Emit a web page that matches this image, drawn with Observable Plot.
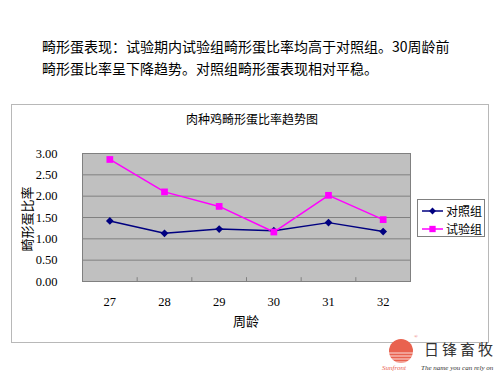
<!DOCTYPE html>
<html><head><meta charset="utf-8">
<script src="https://cdn.jsdelivr.net/npm/d3@7"></script>
<script src="https://cdn.jsdelivr.net/npm/@observablehq/plot@0.6"></script>
<style>body{margin:0;background:#fff}#c{width:500px;height:375px}</style>
</head><body><div id="c"></div>
<script>
const weeks = [27, 28, 29, 30, 31, 32];
const control = [1.42, 1.13, 1.23, 1.19, 1.38, 1.17];
const trial = [2.86, 2.10, 1.76, 1.16, 2.02, 1.45];
const yTicks = [0, 0.5, 1, 1.5, 2, 2.5, 3];
const seriesNames = ["对照组", "试验组"];
const seriesColors = ["#000080", "#ff00ff"];
const chartTitle = "肉种鸡畸形蛋比率趋势图";
const xTitle = "周龄";
const yTitle = "畸形蛋比率";
const headLines = ["畸形蛋表现：试验期内试验组畸形蛋比率均高于对照组。30周龄前", "畸形蛋比率呈下降趋势。对照组畸形蛋表现相对平稳。"];

const data = weeks.flatMap((w, i) => [
  {week: w, value: control[i], group: seriesNames[0]},
  {week: w, value: trial[i], group: seriesNames[1]}
]);
const boundaries = weeks.slice(0, -1).map(w => w + 0.5);
const cjk = "'Noto Sans CJK SC', sans-serif";

const chart = Plot.plot({
  width: 500, height: 375,
  marginLeft: 82, marginRight: 90, marginTop: 153, marginBottom: 94,
  style: {fontFamily: "'Liberation Serif', serif", fontSize: "12.5px", color: "#000", background: "transparent"},
  x: {domain: [26.5, 32.5], ticks: weeks, tickFormat: d => String(d), tickSize: 0, tickPadding: 16, label: null},
  y: {domain: [0, 3], ticks: yTicks, tickFormat: d => d.toFixed(2), tickSize: 0, tickPadding: 25, label: null},
  color: {domain: seriesNames, range: seriesColors},
  marks: [
    Plot.frame({fill: "#c0c0c0"}),
    Plot.gridY(yTicks, {stroke: "#808080", strokeOpacity: 1, strokeWidth: 1}),
    Plot.frame({stroke: "#808080"}),
    Plot.ruleX(boundaries, {y1: 0, y2: 0.09, stroke: "#808080"}),
    Plot.line(data, {x: "week", y: "value", stroke: "group", strokeWidth: 1.5}),
    Plot.dot(data.filter(d => d.group === seriesNames[0]), {x: "week", y: "value", symbol: "diamond2", fill: seriesColors[0], r: 3.5}),
    Plot.dot(data.filter(d => d.group === seriesNames[1]), {x: "week", y: "value", symbol: "square", fill: seriesColors[1], r: 3.8})
  ]
});
document.getElementById("c").appendChild(chart);

const svg = d3.select(chart);
// outer chart border
svg.insert("rect", ":first-child").attr("x", 11.5).attr("y", 104.5).attr("width", 477).attr("height", 238)
  .attr("fill", "#fff").attr("stroke", "#b8b8b8");
// heading text
headLines.forEach((t, i) => {
  svg.append("text").attr("x", 42).attr("y", 52 + i * 22).attr("text-anchor", "start").attr("font-family", cjk)
    .attr("font-size", 14).attr("fill", "#000").text(t);
});
// chart title
svg.append("text").attr("x", 252).attr("y", 124).attr("text-anchor", "middle").attr("font-family", cjk)
  .attr("font-size", 12).attr("fill", "#000").text(chartTitle);
// axis titles
svg.append("text").attr("x", 246).attr("y", 326).attr("text-anchor", "middle").attr("font-family", cjk)
  .attr("font-size", 13).attr("fill", "#000").text(xTitle);
svg.append("text").attr("transform", "translate(32,219) rotate(-90)").attr("text-anchor", "middle")
  .attr("font-family", cjk).attr("font-size", 13).attr("fill", "#000").text(yTitle);
// legend
svg.append("rect").attr("x", 417.5).attr("y", 199.5).attr("width", 67).attr("height", 37)
  .attr("fill", "#fff").attr("stroke", "#808080");
seriesNames.forEach((n, i) => {
  const y = 211 + i * 18;
  svg.append("line").attr("x1", 422).attr("x2", 443).attr("y1", y).attr("y2", y)
    .attr("stroke", seriesColors[i]).attr("stroke-width", 1.5);
  svg.append("path").attr("transform", `translate(432.5,${y})`)
    .attr("d", d3.symbol(i === 0 ? d3.symbolDiamond2 : d3.symbolSquare, i === 0 ? 30 : 40)())
    .attr("fill", seriesColors[i]);
  svg.append("text").attr("x", 446).attr("y", y + 4.5).attr("text-anchor", "start").attr("font-family", cjk)
    .attr("font-size", 12).attr("fill", "#000").text(n);
});
// logo
const lg = svg.append("g").attr("text-anchor", "start");
lg.append("circle").attr("cx", 401).attr("cy", 351).attr("r", 12).attr("fill", "#e9624f");
[353, 356, 359, 362].forEach(y => lg.append("line").attr("x1", 388).attr("x2", 414).attr("y1", y).attr("y2", y)
  .attr("stroke", "#fff").attr("stroke-width", 0.8));
lg.append("text").attr("x", 414).attr("y", 338).attr("font-size", 5).attr("fill", "#e9624f").text("®");
lg.append("text").attr("x", 424).attr("y", 355).attr("font-family", cjk).attr("font-size", 15)
  .attr("letter-spacing", 3).attr("fill", "#333").text("日锋畜牧");
lg.append("text").attr("x", 382).attr("y", 370).attr("font-family", "'Liberation Serif', serif").attr("font-style", "italic")
  .attr("font-size", 7).attr("fill", "#e9624f").text("Sunfront");
lg.append("text").attr("x", 421).attr("y", 370).attr("font-family", "'Liberation Serif', serif").attr("font-style", "italic")
  .attr("font-size", 7).attr("fill", "#333").text("The name you can rely on");
</script></body></html>
